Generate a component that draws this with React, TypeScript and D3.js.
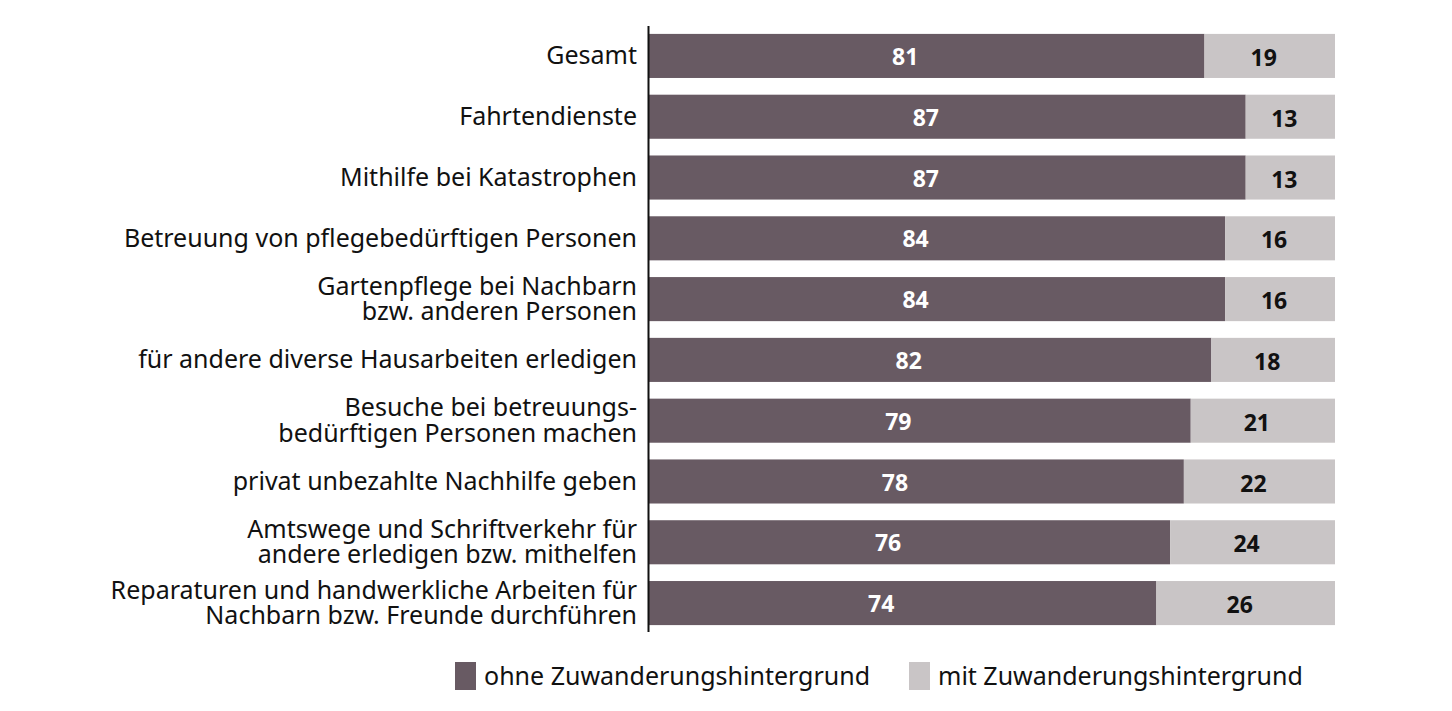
import React from "react";
import * as d3 from "d3";

const categories: string[][] = [
  ["Gesamt"],
  ["Fahrtendienste"],
  ["Mithilfe bei Katastrophen"],
  ["Betreuung von pflegebedürftigen Personen"],
  ["Gartenpflege bei Nachbarn", "bzw. anderen Personen"],
  ["für andere diverse Hausarbeiten erledigen"],
  ["Besuche bei betreuungs-", "bedürftigen Personen machen"],
  ["privat unbezahlte Nachhilfe geben"],
  ["Amtswege und Schriftverkehr für", "andere erledigen bzw. mithelfen"],
  ["Reparaturen und handwerkliche Arbeiten für", "Nachbarn bzw. Freunde durchführen"],
];
const ohne = [81, 87, 87, 84, 84, 82, 79, 78, 76, 74];
const mit = [19, 13, 13, 16, 16, 18, 21, 22, 24, 26];
const seriesNames = ["ohne Zuwanderungshintergrund", "mit Zuwanderungshintergrund"];

const DARK = "#685a63";
const LIGHT = "#c9c5c6";
const FONT = "'Noto Sans', 'Open Sans', sans-serif";

export default function App() {
  const W = 1452, H = 711;
  const x0 = 648, x1 = 1335;
  const x = d3.scaleLinear().domain([0, 100]).range([x0, x1]);
  const idx = categories.map((_, i) => String(i));
  const y = d3.scaleBand().domain(idx).range([26, 633]).paddingInner(0.275).paddingOuter(0.13);
  const bw = y.bandwidth();

  return (
    <svg width={W} height={H} style={{ position: "absolute", left: 0, top: 0 }} fontFamily={FONT}>
      <rect width={W} height={H} fill="#fff" />
      {categories.map((lines, i) => {
        const yy = y(String(i))!;
        const cy = yy + bw / 2;
        const xs = x(ohne[i]);
        return (
          <g key={i}>
            <rect x={x(0)} y={yy} width={xs - x(0)} height={bw} fill={DARK} />
            <rect x={xs} y={yy} width={x(ohne[i] + mit[i]) - xs} height={bw} fill={LIGHT} />
            <text x={(x(0) + xs) / 2 - 21} y={cy + 1} dy="0.35em" textAnchor="middle" fill="#fff"
              fontWeight="bold" fontSize={23}>{ohne[i]}</text>
            <text x={(xs + x(ohne[i] + mit[i])) / 2 - 6} y={cy + 2} dy="0.35em" textAnchor="middle" fill="#111"
              fontWeight="bold" fontSize={23}>{mit[i]}</text>
            {lines.map((ln, j) => (
              <text key={j} x={637} y={cy + (j - (lines.length - 1) / 2) * 25.5} dy="0.33em"
                textAnchor="end" fontSize={25} fill="#111">{ln}</text>
            ))}
          </g>
        );
      })}
      <line x1={648.5} x2={648.5} y1={26} y2={632} stroke="#111" strokeWidth={2} />
      <g>
        <rect x={455} y={662} width={21} height={28} fill={DARK} />
        <text x={484} y={676} dy="0.35em" fontSize={25} fill="#111">{seriesNames[0]}</text>
        <rect x={909} y={662} width={21} height={28} fill={LIGHT} />
        <text x={938} y={676} dy="0.35em" fontSize={25} fill="#111">{seriesNames[1]}</text>
      </g>
    </svg>
  );
}
